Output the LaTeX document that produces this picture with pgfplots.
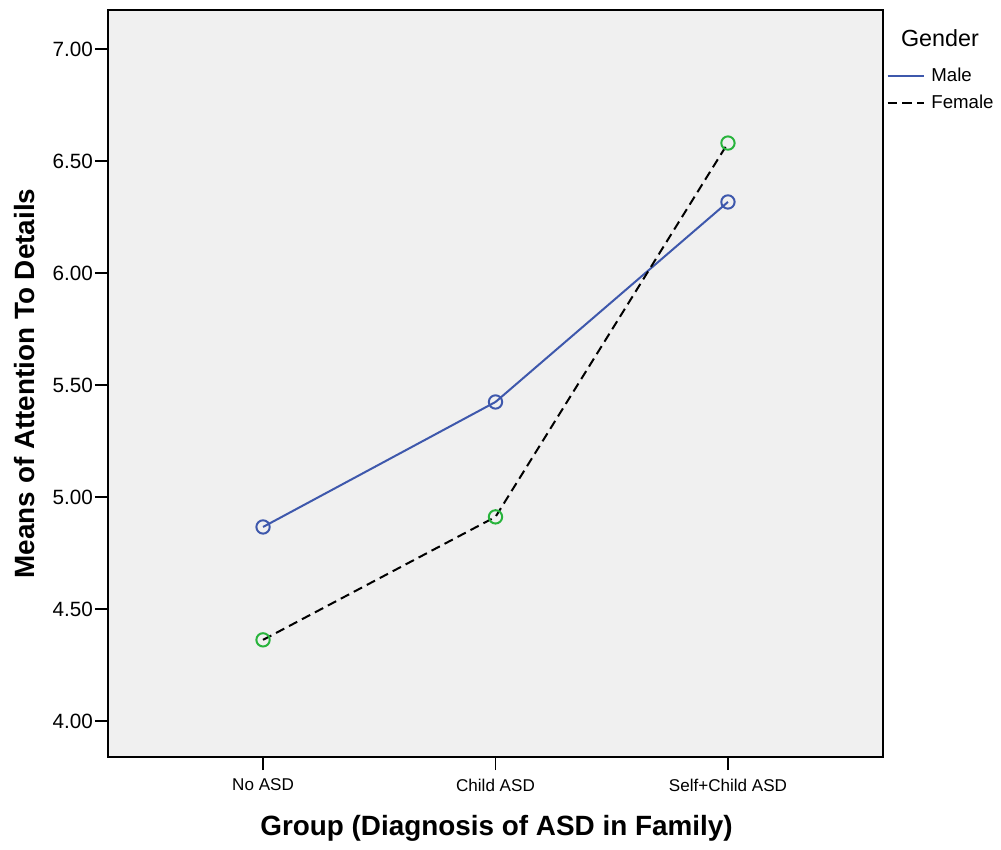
\documentclass[border=0pt]{standalone}
\usepackage{fontspec}
\setmainfont{Liberation Sans}
\usepackage{pgfplots}
\pgfplotsset{compat=1.18}
\definecolor{maleblue}{RGB}{62,88,172}
\definecolor{femgreen}{RGB}{40,180,60}
\definecolor{bgray}{RGB}{240,240,240}
\begin{document}
\begin{tikzpicture}
\begin{axis}[
  name=ax,
  scale only axis,
  width=581.25pt, height=560.25pt,
  xmin=-0.667, xmax=2.667,
  ymin=3.839, ymax=7.174,
  xtick={0,1,2},
  xticklabels={No ASD, Child ASD, Self+Child ASD},
  ytick={4,4.5,5,5.5,6,6.5,7},
  /pgf/number format/fixed,
  /pgf/number format/fixed zerofill,
  /pgf/number format/precision=2,
  /pgf/number format/assume math mode=true,
  xtick pos=bottom, ytick pos=left,
  tick align=outside,
  major tick length=9.75pt,
  every tick/.style={black, line width=1.4pt},
  axis line style={line width=1.4pt},
  axis background/.style={fill=bgray},
  yticklabel style={font=\fontsize{15.5}{18}\selectfont, xshift=2pt},
  xticklabel style={font=\fontsize{12.8}{15}\selectfont, yshift=-3pt},
  xlabel={Group (Diagnosis of ASD in Family)},
  ylabel={Means of Attention To Details},
  every axis x label/.style={at={(rel axis cs:0.5013,-0.095)}, anchor=center, font=\bfseries\fontsize{20.9}{24}\selectfont},
  every axis y label/.style={at={(rel axis cs:-0.1071,0.5)}, rotate=90, anchor=center, font=\bfseries\fontsize{20.9}{24}\selectfont},
  legend style={at={(rel axis cs:1.001,0.93)}, anchor=north west, draw=none, fill=none,
    font=\fontsize{14}{16}\selectfont, row sep=5pt, inner xsep=2pt,
    nodes={inner xsep=5pt}},
  legend cell align=left,
  legend image code/.code={\draw[#1] (0pt,0pt) -- (27pt,0pt);},
  clip=false,
]
\addplot[maleblue, line width=1.5pt, mark=o, mark size=5pt, forget plot] coordinates {(0,4.866) (1,5.424) (2,6.317)};
\addplot[black, line width=1.5pt, dash pattern=on 7pt off 4pt, mark=o, mark size=5pt, mark options={solid, draw=femgreen}, forget plot] coordinates {(0,4.362) (1,4.911) (2,6.580)};
\addlegendimage{maleblue, line width=1.5pt}
\addlegendentry{Male}
\addlegendimage{black, line width=1.5pt, dash pattern=on 7pt off 4pt}
\addlegendentry{Female}
\node[font=\fontsize{17.5}{20}\selectfont] at (rel axis cs:1.0735,0.9625) {Gender};
\end{axis}
\pgfresetboundingbox
\path[use as bounding box] ([shift={(-81pt,-69.75pt)}]ax.south west) rectangle ([shift={(88.5pt,7.5pt)}]ax.north east);
\end{tikzpicture}
\end{document}
